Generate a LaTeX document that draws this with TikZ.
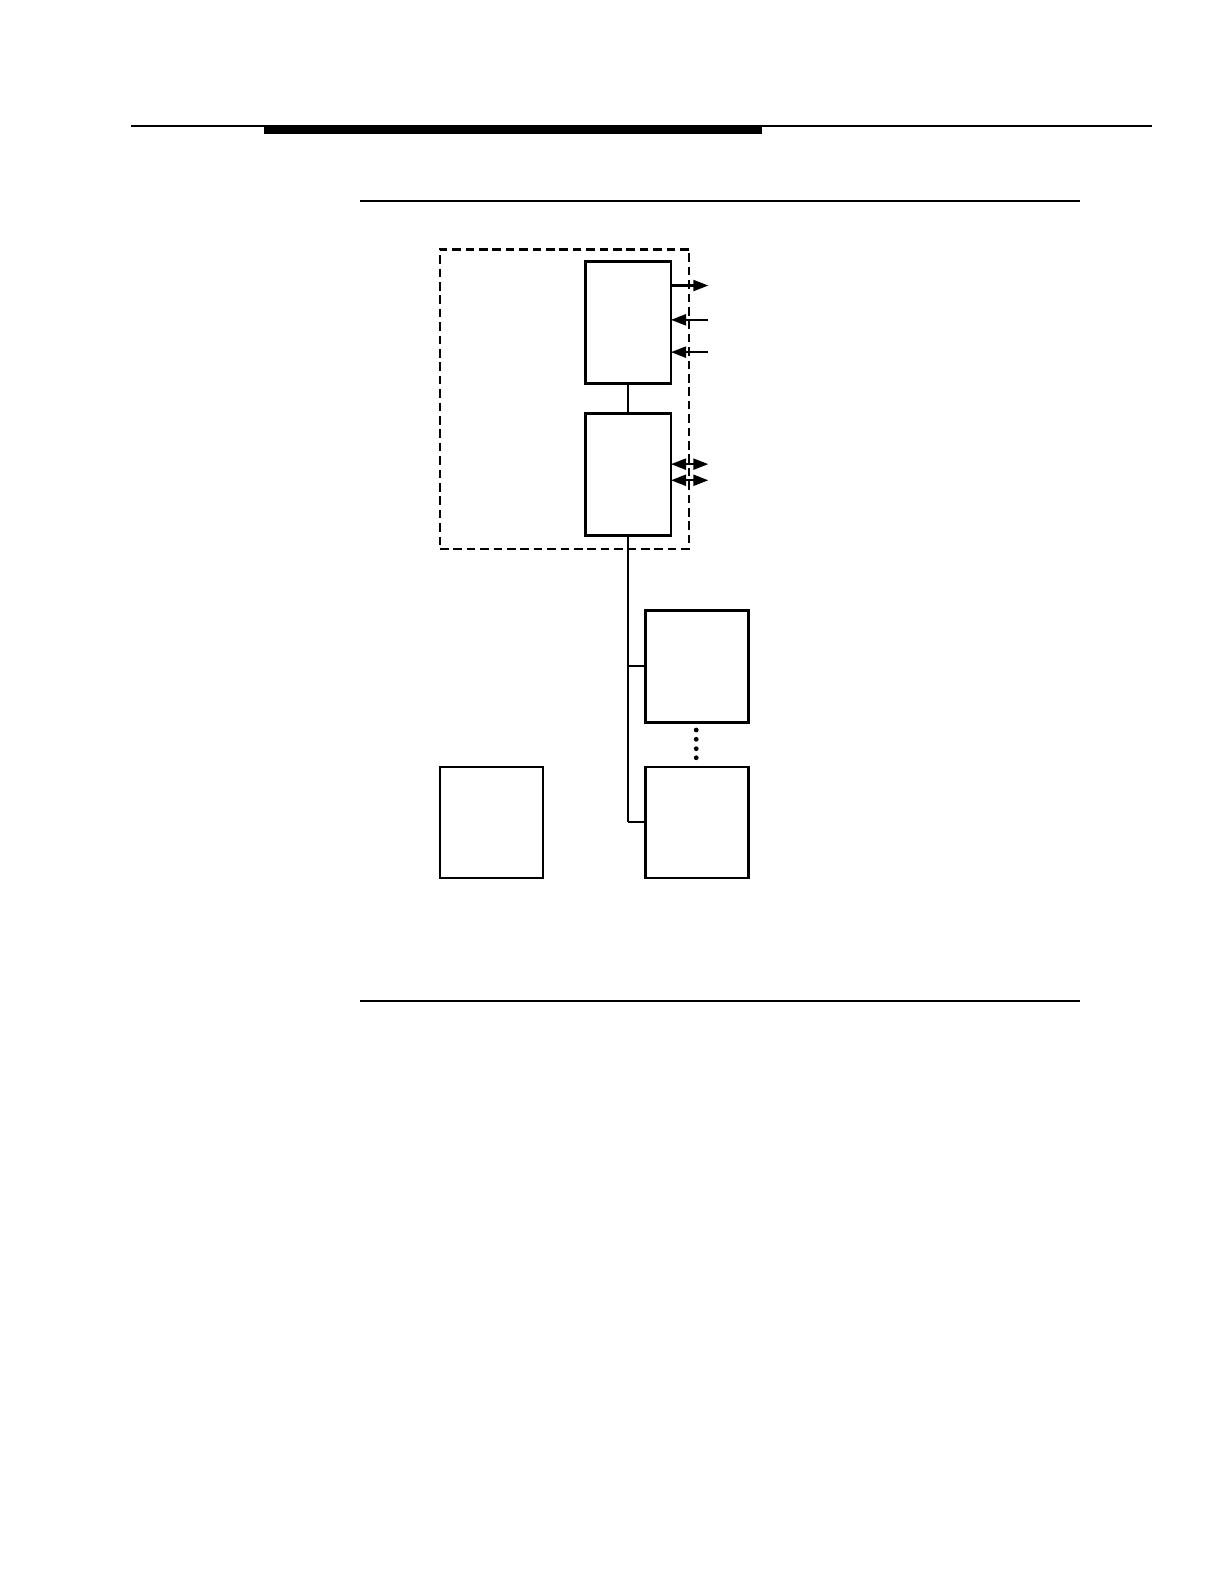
\documentclass[tikz,border=0pt]{standalone}
\usetikzlibrary{arrows.meta}
\begin{document}
\begin{tikzpicture}[x=0.5045pt,y=-0.5045pt,
  box/.style={draw,line width=1.3pt,inner sep=0pt,outer sep=0pt,fill=white},
  grpbox/.style={draw,line width=1.3pt,dash pattern=on 4.3pt off 2.4pt,inner sep=0pt,outer sep=0pt},
  link/.style={line width=1pt},
  arr/.style={line width=1.1pt,-{Triangle[length=7.5pt,width=5.5pt]}},
  darr/.style={line width=1.1pt,{Triangle[length=7.5pt,width=5.5pt]}-{Triangle[length=7.5pt,width=5.5pt]}},
  rule/.style={line width=1pt}]
\useasboundingbox[fill=white] (0,0) rectangle (1211.1,1567.9);
% page header
\coordinate (h1) at (130,125);
\coordinate (h2) at (1142,125);
\draw[line width=0.75pt] (h1) -- (h2);
\fill (262,125) rectangle (755,133);
\coordinate (r1) at (357,199);
\coordinate (r2) at (1070,199);
\draw[rule,line width=1.2pt] (r1) -- (r2);
\coordinate (r3) at (357,992);
\coordinate (r4) at (1070,992);
\draw[rule] (r3) -- (r4);
% dashed group
\node[grpbox,minimum width=124.6pt,minimum height=149.8pt] (grp) at (559.5,395.5) {};
% boxes
\node[box,minimum width=42.9pt,minimum height=61pt] (A) at (622.5,319.5) {};
\node[box,minimum width=42.9pt,minimum height=61pt] (B) at (622.5,470.5) {};
\node[box,minimum width=51.5pt,minimum height=56pt] (C) at (691,660.5) {};
\node[box,minimum width=51.5pt,minimum height=55.5pt] (D) at (691,815) {};
\node[box,minimum width=51.5pt,minimum height=55.5pt] (E) at (487.3,815) {};
% link A-B
\draw[link] (A.south) -- (B.north);
% arrows on A
\coordinate (o1) at (702,283);
\coordinate (i1) at (702,317);
\coordinate (i2) at (702,349);
\draw[arr] (A.east |- o1) -- (o1);
\draw[arr] (i1) -- (A.east |- i1);
\draw[arr] (i2) -- (A.east |- i2);
% double arrows on B
\coordinate (d1) at (702,460);
\coordinate (d2) at (702,476);
\draw[darr] (B.east |- d1) -- (d1);
\draw[darr] (B.east |- d2) -- (d2);
% bus
\coordinate (busend) at (B.south |- D.west);
\draw[link] (B.south) -- (busend);
\draw[link] (B.south |- C.west) -- (C.west);
\draw[link] (busend) -- (D.west);
% dots
\foreach \yy in {723.5,732.7,742,751} \fill (690,\yy) circle (1.2pt);
\end{tikzpicture}
\end{document}
